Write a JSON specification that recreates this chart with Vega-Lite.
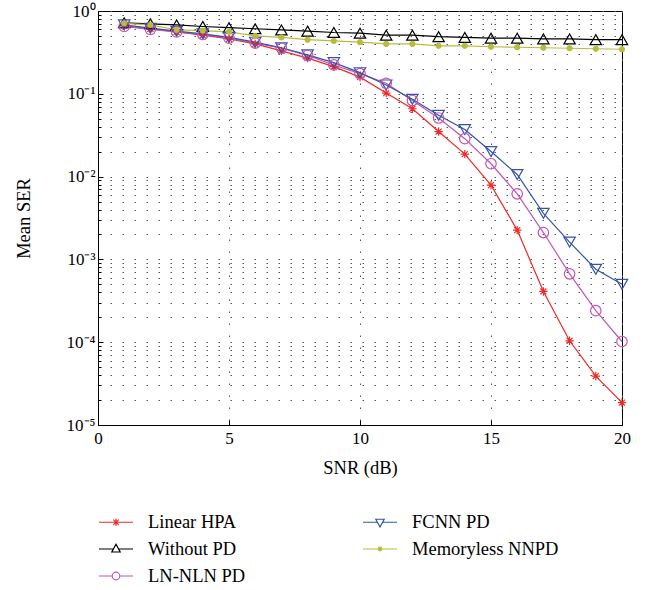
{
  "$schema": "https://vega.github.io/schema/vega-lite/v6.json",
  "width": 524,
  "height": 414,
  "autosize": "none",
  "padding": {"left": 98, "top": 11, "right": 32, "bottom": 165},
  "background": "white",
  "config": {
    "font": "Liberation Serif, Times New Roman, serif",
    "view": {"stroke": "black", "strokeWidth": 1},
    "axis": {
      "labelFont": "Liberation Serif, Times New Roman, serif",
      "titleFont": "Liberation Serif, Times New Roman, serif",
      "labelFontSize": 17,
      "titleFontSize": 18.5,
      "titleFontWeight": "normal",
      "labelColor": "black",
      "titleColor": "black",
      "domainColor": "black",
      "tickColor": "black",
      "gridColor": "#555555",
      "gridDash": [1.5, 10.5],
      "gridWidth": 1
    },
    "legend": {"labelFont": "Liberation Serif, Times New Roman, serif", "labelFontSize": 18.5, "labelColor": "black"}
  },
  "data": {
    "values": [
      {"s": "Linear HPA", "snr": 1, "ser": 0.66}, {"s": "Linear HPA", "snr": 2, "ser": 0.61}, {"s": "Linear HPA", "snr": 3, "ser": 0.56}, {"s": "Linear HPA", "snr": 4, "ser": 0.51}, {"s": "Linear HPA", "snr": 5, "ser": 0.46},
      {"s": "Linear HPA", "snr": 6, "ser": 0.40}, {"s": "Linear HPA", "snr": 7, "ser": 0.33}, {"s": "Linear HPA", "snr": 8, "ser": 0.27}, {"s": "Linear HPA", "snr": 9, "ser": 0.213}, {"s": "Linear HPA", "snr": 10, "ser": 0.159},
      {"s": "Linear HPA", "snr": 11, "ser": 0.102}, {"s": "Linear HPA", "snr": 12, "ser": 0.066}, {"s": "Linear HPA", "snr": 13, "ser": 0.035}, {"s": "Linear HPA", "snr": 14, "ser": 0.0187}, {"s": "Linear HPA", "snr": 15, "ser": 0.0079},
      {"s": "Linear HPA", "snr": 16, "ser": 0.00226}, {"s": "Linear HPA", "snr": 17, "ser": 0.00041}, {"s": "Linear HPA", "snr": 18, "ser": 0.000104}, {"s": "Linear HPA", "snr": 19, "ser": 0.000039}, {"s": "Linear HPA", "snr": 20, "ser": 0.0000186},
      {"s": "Without PD", "snr": 1, "ser": 0.72}, {"s": "Without PD", "snr": 2, "ser": 0.70}, {"s": "Without PD", "snr": 3, "ser": 0.68}, {"s": "Without PD", "snr": 4, "ser": 0.65}, {"s": "Without PD", "snr": 5, "ser": 0.63},
      {"s": "Without PD", "snr": 6, "ser": 0.61}, {"s": "Without PD", "snr": 7, "ser": 0.59}, {"s": "Without PD", "snr": 8, "ser": 0.57}, {"s": "Without PD", "snr": 9, "ser": 0.55}, {"s": "Without PD", "snr": 10, "ser": 0.54},
      {"s": "Without PD", "snr": 11, "ser": 0.51}, {"s": "Without PD", "snr": 12, "ser": 0.51}, {"s": "Without PD", "snr": 13, "ser": 0.49}, {"s": "Without PD", "snr": 14, "ser": 0.48}, {"s": "Without PD", "snr": 15, "ser": 0.47},
      {"s": "Without PD", "snr": 16, "ser": 0.47}, {"s": "Without PD", "snr": 17, "ser": 0.46}, {"s": "Without PD", "snr": 18, "ser": 0.46}, {"s": "Without PD", "snr": 19, "ser": 0.45}, {"s": "Without PD", "snr": 20, "ser": 0.45},
      {"s": "LN-NLN PD", "snr": 1, "ser": 0.65}, {"s": "LN-NLN PD", "snr": 2, "ser": 0.60}, {"s": "LN-NLN PD", "snr": 3, "ser": 0.56}, {"s": "LN-NLN PD", "snr": 4, "ser": 0.52}, {"s": "LN-NLN PD", "snr": 5, "ser": 0.47},
      {"s": "LN-NLN PD", "snr": 6, "ser": 0.41}, {"s": "LN-NLN PD", "snr": 7, "ser": 0.355}, {"s": "LN-NLN PD", "snr": 8, "ser": 0.29}, {"s": "LN-NLN PD", "snr": 9, "ser": 0.223}, {"s": "LN-NLN PD", "snr": 10, "ser": 0.175},
      {"s": "LN-NLN PD", "snr": 11, "ser": 0.134}, {"s": "LN-NLN PD", "snr": 12, "ser": 0.083}, {"s": "LN-NLN PD", "snr": 13, "ser": 0.051}, {"s": "LN-NLN PD", "snr": 14, "ser": 0.0287}, {"s": "LN-NLN PD", "snr": 15, "ser": 0.0143},
      {"s": "LN-NLN PD", "snr": 16, "ser": 0.0062}, {"s": "LN-NLN PD", "snr": 17, "ser": 0.00211}, {"s": "LN-NLN PD", "snr": 18, "ser": 0.00067}, {"s": "LN-NLN PD", "snr": 19, "ser": 0.00024}, {"s": "LN-NLN PD", "snr": 20, "ser": 0.000102},
      {"s": "FCNN PD", "snr": 1, "ser": 0.68}, {"s": "FCNN PD", "snr": 2, "ser": 0.62}, {"s": "FCNN PD", "snr": 3, "ser": 0.57}, {"s": "FCNN PD", "snr": 4, "ser": 0.53}, {"s": "FCNN PD", "snr": 5, "ser": 0.48},
      {"s": "FCNN PD", "snr": 6, "ser": 0.42}, {"s": "FCNN PD", "snr": 7, "ser": 0.36}, {"s": "FCNN PD", "snr": 8, "ser": 0.295}, {"s": "FCNN PD", "snr": 9, "ser": 0.238}, {"s": "FCNN PD", "snr": 10, "ser": 0.18},
      {"s": "FCNN PD", "snr": 11, "ser": 0.128}, {"s": "FCNN PD", "snr": 12, "ser": 0.086}, {"s": "FCNN PD", "snr": 13, "ser": 0.055}, {"s": "FCNN PD", "snr": 14, "ser": 0.037}, {"s": "FCNN PD", "snr": 15, "ser": 0.0201},
      {"s": "FCNN PD", "snr": 16, "ser": 0.0106}, {"s": "FCNN PD", "snr": 17, "ser": 0.0036}, {"s": "FCNN PD", "snr": 18, "ser": 0.00162}, {"s": "FCNN PD", "snr": 19, "ser": 0.00076}, {"s": "FCNN PD", "snr": 20, "ser": 0.0005},
      {"s": "Memoryless NNPD", "snr": 1, "ser": 0.71}, {"s": "Memoryless NNPD", "snr": 2, "ser": 0.68}, {"s": "Memoryless NNPD", "snr": 3, "ser": 0.59}, {"s": "Memoryless NNPD", "snr": 4, "ser": 0.58}, {"s": "Memoryless NNPD", "snr": 5, "ser": 0.56},
      {"s": "Memoryless NNPD", "snr": 6, "ser": 0.50}, {"s": "Memoryless NNPD", "snr": 7, "ser": 0.48}, {"s": "Memoryless NNPD", "snr": 8, "ser": 0.45}, {"s": "Memoryless NNPD", "snr": 9, "ser": 0.435}, {"s": "Memoryless NNPD", "snr": 10, "ser": 0.42},
      {"s": "Memoryless NNPD", "snr": 11, "ser": 0.40}, {"s": "Memoryless NNPD", "snr": 12, "ser": 0.40}, {"s": "Memoryless NNPD", "snr": 13, "ser": 0.38}, {"s": "Memoryless NNPD", "snr": 14, "ser": 0.38}, {"s": "Memoryless NNPD", "snr": 15, "ser": 0.37},
      {"s": "Memoryless NNPD", "snr": 16, "ser": 0.365}, {"s": "Memoryless NNPD", "snr": 17, "ser": 0.36}, {"s": "Memoryless NNPD", "snr": 18, "ser": 0.355}, {"s": "Memoryless NNPD", "snr": 19, "ser": 0.35}, {"s": "Memoryless NNPD", "snr": 20, "ser": 0.345}
    ]
  },
  "encoding": {
    "x": {
      "field": "snr", "type": "quantitative", "title": "SNR (dB)",
      "scale": {"domain": [0, 20], "nice": false, "zero": false},
      "axis": {"values": [0, 5, 10, 15, 20], "grid": true, "tickSize": -5, "labelPadding": 10, "titlePadding": 12, "labelFlush": false}
    },
    "y": {
      "field": "ser", "type": "quantitative", "title": "Mean SER",
      "scale": {"type": "log", "domain": [0.00001, 1], "nice": false},
      "axis": {
        "values": [0.00001, 0.00002, 0.00003, 0.00004, 0.00005, 0.00006, 0.00007, 0.00008, 0.00009,
                   0.0001, 0.0002, 0.0003, 0.0004, 0.0005, 0.0006, 0.0007, 0.0008, 0.0009,
                   0.001, 0.002, 0.003, 0.004, 0.005, 0.006, 0.007, 0.008, 0.009,
                   0.01, 0.02, 0.03, 0.04, 0.05, 0.06, 0.07, 0.08, 0.09,
                   0.1, 0.2, 0.3, 0.4, 0.5, 0.6, 0.7, 0.8, 0.9, 1],
        "grid": true,
        "tickSize": {"condition": {"test": "abs(log(datum.value)/LN10 - round(log(datum.value)/LN10)) < 0.000001", "value": -5}, "value": -3},
        "labelExpr": "abs(log(datum.value)/LN10 - round(log(datum.value)/LN10)) < 0.000001 ? '10' + (round(log(datum.value)/LN10) == 0 ? '⁰' : '⁻' + ['', '¹', '²', '³', '⁴', '⁵'][-round(log(datum.value)/LN10)]) : ''",
        "labelPadding": 8,
        "labelFlush": false,
        "labelOverlap": false,
        "titlePadding": 33
      }
    },
    "stroke": {
      "field": "s", "type": "nominal",
      "scale": {"domain": ["Linear HPA", "Without PD", "LN-NLN PD", "FCNN PD", "Memoryless NNPD"], "range": ["#ee2a2a", "#000000", "#c055b5", "#3354aa", "#b8bc3c"]},
      "legend": {
        "title": null,
        "orient": "none",
        "legendX": 0,
        "legendY": 500,
        "columns": 2,
        "columnPadding": 114,
        "rowPadding": 6,
        "symbolSize": 400,
        "labelOffset": 28,
        "padding": 0,
        "encode": {
          "symbols": {
            "update": {
              "size": {"value": 400},
              "strokeWidth": {"value": 1.2},
              "fill": {"signal": "datum.value === 'Memoryless NNPD' ? '#b8bc3c' : 'transparent'"},
              "shape": {"signal": "datum.value === 'Linear HPA' ? 'M-1,0H2.4M0.7,-0.38V0.38M0.32,0H1.08M0.43,-0.27L0.97,0.27M0.43,0.27L0.97,-0.27' : datum.value === 'Without PD' ? 'M-1,0H0.45M0.95,0H2.4M0.7,-0.48L1.12,0.3H0.28Z' : datum.value === 'LN-NLN PD' ? 'M-1,0H0.32M1.08,0H2.4M1.08,0A0.38,0.38,0,1,1,0.32,0A0.38,0.38,0,1,1,1.08,0Z' : datum.value === 'FCNN PD' ? 'M-1,0H0.45M0.95,0H2.4M0.7,0.48L1.12,-0.3H0.28Z' : 'M-1,0H2.4M0.88,0A0.18,0.18,0,1,1,0.52,0A0.18,0.18,0,1,1,0.88,0Z'"}
            }
          }
        }
      }
    }
  },
  "layer": [
    {
      "mark": {"type": "line", "strokeWidth": 1.2},
      "encoding": {"detail": {"field": "s"}}
    },
    {
      "transform": [{"filter": "datum.s === 'Linear HPA'"}],
      "mark": {"type": "point", "filled": false, "fill": "transparent", "opacity": 1, "strokeWidth": 1.2, "size": 110, "shape": "M-0.8,0H0.8M0,-0.8V0.8M-0.57,-0.57L0.57,0.57M-0.57,0.57L0.57,-0.57"},
      "encoding": {}
    },
    {
      "transform": [{"filter": "datum.s === 'Without PD'"}],
      "mark": {"type": "point", "filled": false, "fill": "transparent", "opacity": 1, "strokeWidth": 1.2, "size": 130, "shape": "triangle-up"},
      "encoding": {}
    },
    {
      "transform": [{"filter": "datum.s === 'FCNN PD'"}],
      "mark": {"type": "point", "filled": false, "fill": "transparent", "opacity": 1, "strokeWidth": 1.2, "size": 130, "shape": "triangle-down"},
      "encoding": {}
    },
    {
      "transform": [{"filter": "datum.s === 'LN-NLN PD'"}],
      "mark": {"type": "point", "filled": false, "fill": "transparent", "opacity": 1, "strokeWidth": 1.2, "size": 110, "shape": "circle"},
      "encoding": {}
    },
    {
      "transform": [{"filter": "datum.s === 'Memoryless NNPD'"}],
      "mark": {"type": "point", "filled": false, "fill": "#b8bc3c", "opacity": 1, "strokeWidth": 1, "size": 28, "shape": "circle"},
      "encoding": {}
    }
  ]
}
